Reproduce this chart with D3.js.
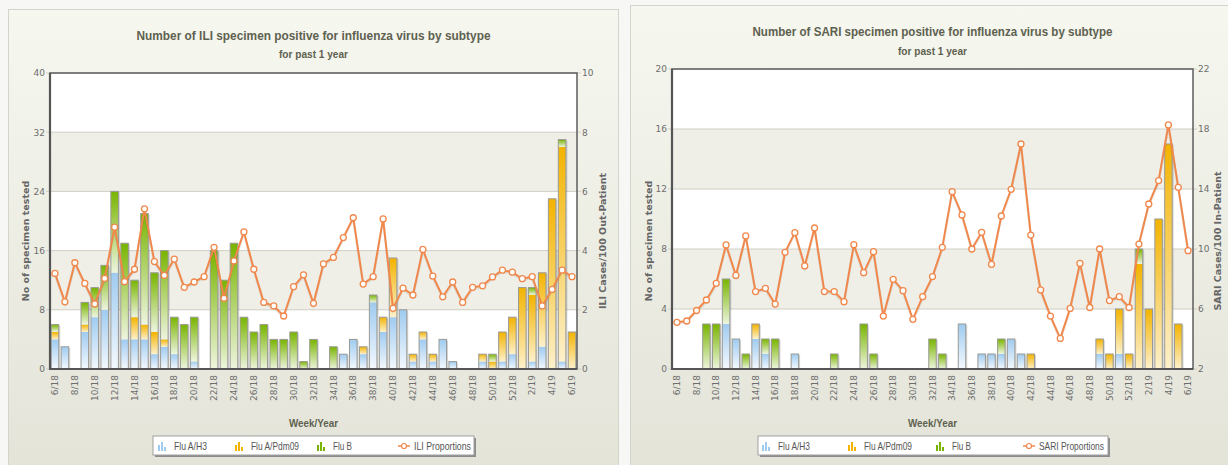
<!DOCTYPE html>
<html>
<head>
<meta charset="utf-8">
<script src="https://cdn.jsdelivr.net/npm/d3@7"></script>
<style>
  body { margin: 0; background: #f7f7f5; }
  svg { display: block; }
  .narrow { font-family: "Liberation Sans Narrow", "Liberation Sans", Arial, sans-serif; }
  .tick text { font-family: "DejaVu Sans", Verdana, sans-serif; font-size: 9px; fill: #6e6e6e; }
</style>
</head>
<body>
<svg id="chart" width="1228" height="465"></svg>
<script>
// week/year categories
const weekLabels = ["6/18","7/18","8/18","9/18","10/18","11/18","12/18","13/18","14/18","15/18",
  "16/18","17/18","18/18","19/18","20/18","21/18","22/18","23/18","24/18","25/18",
  "26/18","27/18","28/18","29/18","30/18","31/18","32/18","33/18","34/18","35/18",
  "36/18","37/18","38/18","39/18","40/18","41/18","42/18","43/18","44/18","45/18",
  "46/18","47/18","48/18","49/18","50/18","51/18","52/18","1/19","2/19","3/19",
  "4/19","5/19","6/19"];

// ILI panel
const iliH3  = [4,3,0,5,7,8,13,4,4,4,2,3,2,0,1,0,0,0,0,0,0,0,0,0,0,0,0,0,0,2,4,2,9,5,7,8,1,4,1,4,1,0,0,1,0,1,2,0,1,3,0,1,0];
const iliPdm = [1,0,0,1,0,0,0,0,3,2,3,1,0,0,0,0,0,0,0,0,0,0,0,0,0,0,0,0,0,0,0,1,0,2,8,0,1,1,1,0,0,0,0,1,1,4,5,11,9,10,23,29,5];
const iliB   = [1,0,0,3,4,6,11,13,5,15,8,12,5,6,6,0,16,12,17,7,5,6,4,4,5,1,4,0,3,0,0,0,1,0,0,0,0,0,0,0,0,0,0,0,1,0,0,0,1,0,0,1,0];
const iliProp = [3.23,2.27,3.59,2.89,2.20,3.06,4.79,2.95,3.37,5.41,
  3.63,3.16,3.71,2.76,2.94,3.12,4.11,2.39,3.65,4.63,
  3.37,2.25,2.13,1.79,2.78,3.18,2.22,3.55,3.77,4.44,
  5.11,2.87,3.12,5.07,2.05,2.73,2.50,4.04,3.14,2.44,
  2.94,2.25,2.76,2.81,3.11,3.34,3.27,3.05,3.12,2.13,
  2.69,3.34,3.12];
const iliTicks = [0,8,16,24,32,40];
const iliTicks2 = [0,2,4,6,8,10];

// SARI panel
const sariH3  = [0,0,0,0,0,3,2,0,2,1,0,0,1,0,0,0,0,0,0,0,0,0,0,0,0,0,0,0,0,3,0,1,1,1,2,1,0,0,0,0,0,0,0,1,0,1,0,0,0,0,0,0,0];
const sariPdm = [0,0,0,0,0,0,0,0,1,0,0,0,0,0,0,0,0,0,0,0,0,0,0,0,0,0,0,0,0,0,0,0,0,0,0,0,1,0,0,0,0,0,0,1,1,3,1,7,4,10,15,3,0];
const sariB   = [0,0,0,3,3,3,0,1,0,1,2,0,0,0,0,0,1,0,0,3,1,0,0,0,0,0,2,1,0,0,0,0,0,1,0,0,0,0,0,0,0,0,0,0,0,0,0,1,0,0,0,0,0];
const sariProp = [5.11,5.20,5.90,6.60,7.71,10.27,8.24,10.87,7.16,7.38,
  6.33,9.78,11.09,8.87,11.40,7.16,7.16,6.49,10.29,8.42,
  9.82,5.53,7.98,7.22,5.31,6.82,8.16,10.11,13.82,12.27,
  10.00,11.11,8.98,12.20,13.98,17.00,10.93,7.27,5.53,4.04,
  6.04,9.04,6.10,10.00,6.56,6.82,6.10,10.33,13.00,14.56,
  18.27,14.11,9.89];
const sariTicks = [0,4,8,12,16,20];
const sariTicks2 = [2,6,10,14,18,22];

const seriesKeys = ["h3","pdm","b"];
const seriesNames = ["Flu A/H3","Flu A/Pdm09","Flu B"];

const svg = d3.select("#chart");
const defs = svg.append("defs");

// panel background
const pg = defs.append("linearGradient").attr("id","panelGrad")
  .attr("x1",0).attr("y1",0).attr("x2",0).attr("y2",1);
pg.append("stop").attr("offset","0%").attr("stop-color","#f6f7ef");
pg.append("stop").attr("offset","100%").attr("stop-color","#e3e3d8");

// bar gradients, strong at top fading at bottom
const barColors = {
  h3:  ["#9fcbf0","#f4f9fe"],
  pdm: ["#f3b300","#fdf1cc"],
  b:   ["#78b400","#eef5df"]
};
Object.keys(barColors).forEach(k => {
  const g = defs.append("linearGradient").attr("id","grad-"+k)
    .attr("x1",0).attr("y1",0).attr("x2",0).attr("y2",1);
  g.append("stop").attr("offset","0%").attr("stop-color",barColors[k][0]);
  g.append("stop").attr("offset","100%").attr("stop-color",barColors[k][1]);
});

const lineColor = "#f0884c";

// narrow bold-ish text squeezed to the width seen in the picture
function narrowText(sel, x, y, str, size, width, opts) {
  const t = sel.append("text").attr("class","narrow")
    .attr("x",x).attr("y",y)
    .attr("font-size",size)
    .attr("textLength",width).attr("lengthAdjust","spacingAndGlyphs")
    .text(str);
  if (opts.anchor) t.attr("text-anchor",opts.anchor);
  if (opts.bold) t.attr("font-weight","bold");
  t.attr("fill",opts.fill || "#555");
  return t;
}

function drawPanel(cfg) {
  const g = svg.append("g");
  const p = cfg.plot;

  g.append("rect")
    .attr("x",cfg.panel.x).attr("y",cfg.panel.y)
    .attr("width",cfg.panel.w).attr("height",cfg.panel.h)
    .attr("fill","url(#panelGrad)")
    .attr("stroke","#d4d4cc");

  const x = d3.scaleBand().domain(weekLabels).range([p.x0,p.x1])
    .paddingInner(0.24).paddingOuter(0.12);
  const y = d3.scaleLinear().domain(d3.extent(cfg.ticks)).range([p.y1,p.y0]);
  const y2 = d3.scaleLinear().domain(d3.extent(cfg.ticks2)).range([p.y1,p.y0]);

  // alternating bands
  for (let i = 0; i < cfg.ticks.length-1; i++) {
    g.append("rect")
      .attr("x",p.x0).attr("width",p.x1-p.x0)
      .attr("y",y(cfg.ticks[i+1]))
      .attr("height",y(cfg.ticks[i])-y(cfg.ticks[i+1]))
      .attr("fill", i % 2 === 0 ? "#ffffff" : "#efefe8");
  }
  g.selectAll("line.grid").data(cfg.ticks).join("line")
    .attr("class","grid")
    .attr("x1",p.x0-4).attr("x2",p.x1+4)
    .attr("y1",d => y(d)).attr("y2",d => y(d))
    .attr("stroke","#cfcfc6");

  // stacked bars
  const rows = weekLabels.map((w,i) => ({week:w, h3:cfg.h3[i], pdm:cfg.pdm[i], b:cfg.b[i]}));
  const stacked = d3.stack().keys(seriesKeys)(rows);
  const bw = x.bandwidth();
  const total = d => d.h3 + d.pdm + d.b;

  g.selectAll("rect.shadow").data(rows.filter(d => total(d) > 0)).join("rect")
    .attr("class","shadow")
    .attr("x",d => x(d.week)+1.5).attr("width",bw)
    .attr("y",d => y(total(d))+1)
    .attr("height",d => y(0)-y(total(d))-1)
    .attr("fill","rgba(0,0,0,0.16)");

  stacked.forEach(layer => {
    g.selectAll("rect.seg-"+layer.key)
      .data(layer.filter(d => d[1] > d[0]))
      .join("rect")
      .attr("class","seg-"+layer.key)
      .attr("x",d => x(d.data.week)).attr("width",bw)
      .attr("y",d => y(d[1]))
      .attr("height",d => y(d[0])-y(d[1]))
      .attr("fill","url(#grad-"+layer.key+")");
  });

  g.selectAll("rect.outline").data(rows.filter(d => total(d) > 0)).join("rect")
    .attr("class","outline")
    .attr("x",d => x(d.week)).attr("width",bw)
    .attr("y",d => y(total(d)))
    .attr("height",d => y(0)-y(total(d)))
    .attr("fill","none")
    .attr("stroke","#9a9a94").attr("stroke-width",1);

  // proportion line
  const cx = d => x(d.week) + bw/2;
  const pts = weekLabels.map((w,i) => ({week:w, v:cfg.prop[i]}));
  const line = d3.line().x(cx).y(d => y2(d.v));
  g.append("path").datum(pts)
    .attr("d",line)
    .attr("transform","translate(0,1.5)")
    .attr("fill","none").attr("stroke","rgba(0,0,0,0.08)").attr("stroke-width",2.5);
  g.append("path").datum(pts)
    .attr("d",line)
    .attr("fill","none").attr("stroke",lineColor).attr("stroke-width",2);
  g.selectAll("circle.pt").data(pts).join("circle")
    .attr("class","pt")
    .attr("cx",cx).attr("cy",d => y2(d.v)).attr("r",3)
    .attr("fill","#fff").attr("stroke",lineColor).attr("stroke-width",1.3);

  // frame
  g.append("rect")
    .attr("x",p.x0).attr("y",p.y0)
    .attr("width",p.x1-p.x0).attr("height",p.y1-p.y0)
    .attr("fill","none").attr("stroke","#5c5c5c").attr("stroke-width",1.5);
  g.append("path")
    .attr("d",`M${p.x0},${p.y0}V${p.y1}H${p.x1}`)
    .attr("fill","none").attr("stroke","#555").attr("stroke-width",2.2);

  // axes
  const ax = g.append("g").attr("transform",`translate(${p.x0-4},0)`)
    .call(d3.axisLeft(y).tickValues(cfg.ticks).tickSize(0).tickPadding(1));
  ax.select(".domain").remove();
  const ax2 = g.append("g").attr("transform",`translate(${p.x1+4},0)`)
    .call(d3.axisRight(y2).tickValues(cfg.ticks2).tickSize(0).tickPadding(1));
  ax2.select(".domain").remove();
  const axb = g.append("g").attr("transform",`translate(0,${p.y1})`)
    .call(d3.axisBottom(x).tickValues(weekLabels.filter((d,i) => i % 2 === 0)).tickSize(0));
  axb.select(".domain").remove();
  axb.selectAll("text")
    .attr("transform","rotate(-90)")
    .attr("text-anchor","end")
    .attr("x",-6).attr("y",0).attr("dy","0.35em");

  // titles
  const mid = (p.x0+p.x1)/2;
  narrowText(g, mid, cfg.titleY, cfg.title, 13.5, cfg.titleW,
    {anchor:"middle", bold:true, fill:"#5e6150"});
  narrowText(g, mid, cfg.titleY+18.5, "for past 1 year", 11, 69,
    {anchor:"middle", bold:true, fill:"#5e6150"});
  narrowText(g, mid, 427, "Week/Year", 11.5, 49,
    {anchor:"middle", bold:true, fill:"#5e6150"});

  const ymid = 241;
  g.append("text")
    .attr("transform",`translate(${cfg.leftTitleX},${ymid}) rotate(-90)`)
    .attr("text-anchor","middle")
    .attr("font-family","DejaVu Sans, Verdana, sans-serif")
    .attr("font-size",9.5).attr("font-weight","bold").attr("fill","#666")
    .text("No of specimen tested");
  g.append("text")
    .attr("transform",`translate(${cfg.rightTitleX},${ymid}) rotate(-90)`)
    .attr("text-anchor","middle")
    .attr("font-family","DejaVu Sans, Verdana, sans-serif")
    .attr("font-size",9.5).attr("font-weight","bold").attr("fill","#666")
    .text(cfg.rightTitle);

  // legend
  const L = cfg.legend;
  const lg = g.append("g").attr("transform",`translate(${L.x},436)`);
  lg.append("rect").attr("x",2).attr("y",2).attr("width",L.w).attr("height",19)
    .attr("fill","#8c8c8c");
  lg.append("rect").attr("x",0).attr("y",0).attr("width",L.w).attr("height",19)
    .attr("fill","#fff").attr("stroke","#a0a0a0");
  seriesKeys.forEach((k,i) => {
    const ig = lg.append("g").attr("transform",`translate(${L.items[i]},5)`);
    [[0,4],[3,1],[6,6]].forEach(([dx,top]) => {
      ig.append("rect").attr("x",dx).attr("y",top).attr("width",2).attr("height",10-top)
        .attr("fill",barColors[k][0]);
    });
    narrowText(lg, L.items[i]+16, 13.5, seriesNames[i], 11, L.widths[i], {fill:"#555"});
  });
  const li = L.items[3];
  lg.append("line").attr("x1",li).attr("x2",li+12).attr("y1",10).attr("y2",10)
    .attr("stroke",lineColor).attr("stroke-width",1.5);
  lg.append("circle").attr("cx",li+6).attr("cy",10).attr("r",2.5)
    .attr("fill","#fff").attr("stroke",lineColor).attr("stroke-width",1.2);
  narrowText(lg, li+16, 13.5, cfg.lineLabel, 11, L.widths[3], {fill:"#555"});
}

drawPanel({
  panel:{x:8.5,y:9.5,w:610,h:470},
  plot:{x0:50,x1:577,y0:73,y1:369},
  ticks:iliTicks, ticks2:iliTicks2,
  h3:iliH3, pdm:iliPdm, b:iliB, prop:iliProp,
  title:"Number of ILI specimen positive for influenza virus by subtype",
  titleY:39.5, titleW:354,
  rightTitle:"ILI Cases/100 Out-Patient",
  leftTitleX:29, rightTitleX:606,
  lineLabel:"ILI Proportions",
  legend:{x:153, w:321, items:[5,82,164,245], widths:[33,48,19,57]}
});

drawPanel({
  panel:{x:630.5,y:5.5,w:600,h:470},
  plot:{x0:672,x1:1193,y0:69,y1:369},
  ticks:sariTicks, ticks2:sariTicks2,
  h3:sariH3, pdm:sariPdm, b:sariB, prop:sariProp,
  title:"Number of SARI specimen positive for influenza virus by subtype",
  titleY:36, titleW:360,
  rightTitle:"SARI Cases/100 In-Patient",
  leftTitleX:652, rightTitleX:1221,
  lineLabel:"SARI Proportions",
  legend:{x:758, w:350, items:[4,90,178,265], widths:[32,48,19,65]}
});
</script>
</body>
</html>
